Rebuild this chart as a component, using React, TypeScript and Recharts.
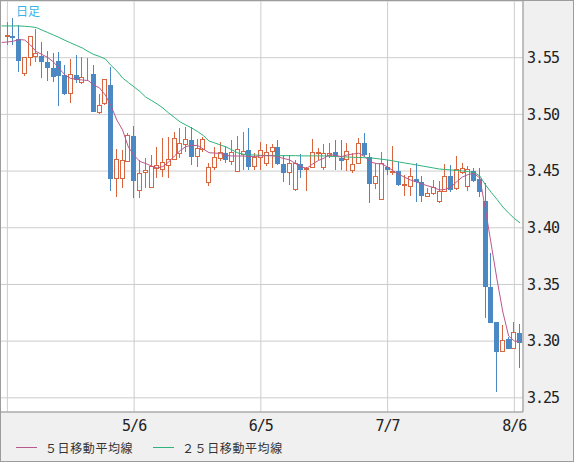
import { ComposedChart, Bar, Line, XAxis, YAxis, CartesianGrid } from "recharts"

// first entry (4/3) only carries the moving averages that run in from the left edge
const DATES = [
  "4/3", "4/4", "4/7", "4/8", "4/9", "4/10", "4/11", "4/14", "4/15", "4/16", "4/17", "4/18",
  "4/21", "4/22", "4/23", "4/24", "4/25", "4/28", "4/29", "4/30", "5/1", "5/2", "5/5", "5/6",
  "5/7", "5/8", "5/9", "5/12", "5/13", "5/14", "5/15", "5/16", "5/19", "5/20", "5/21", "5/22",
  "5/23", "5/26", "5/27", "5/28", "5/29", "5/30", "6/2", "6/3", "6/4", "6/5", "6/6", "6/9",
  "6/10", "6/11", "6/12", "6/13", "6/16", "6/17", "6/18", "6/19", "6/20", "6/23", "6/24", "6/25",
  "6/26", "6/27", "6/30", "7/1", "7/2", "7/3", "7/4", "7/7", "7/8", "7/9", "7/10", "7/11",
  "7/14", "7/15", "7/16", "7/17", "7/18", "7/21", "7/22", "7/23", "7/24", "7/25", "7/28", "7/29",
  "7/30", "7/31", "8/1", "8/4", "8/5", "8/6", "8/7",
]

const OPEN = [
  null,
  3.5685, 3.5694, 3.5665, 3.5354, 3.5495, 3.5509, 3.5515, 3.5462, 3.5406, 3.5471,
  3.5347, 3.518, 3.5347, 3.5274, 3.5356, 3.5356, 3.501, 3.5092, 3.5259, 3.4428,
  3.4428, 3.4583, 3.4809, 3.4327, 3.4486, 3.4355, 3.4516, 3.451, 3.4545, 3.4598,
  3.465, 3.473, 3.4774, 3.4624, 3.4686, 3.4398, 3.4525, 3.4604, 3.4662, 3.458,
  3.4495, 3.4638, 3.4686, 3.4533, 3.4613, 3.456, 3.4666, 3.471, 3.456, 3.448,
  3.4333, 3.456, 3.451, 3.453, 3.4648, 3.4525, 3.4636, 3.4668, 3.4618, 3.4598,
  3.4504, 3.4563, 3.4745, 3.4622, 3.4383, 3.4245, 3.4533, 3.448, 3.4504, 3.4368,
  3.4357, 3.443, 3.4406, 3.4274, 3.4298, 3.4225, 3.4318, 3.4457, 3.434, 3.4486,
  3.4362, 3.4501, 3.4428, 3.4236, 3.348, 3.3169, 3.2907, 3.3016, 3.2928, 3.307,
]

const HIGH = [
  null,
  3.5815, 3.5853, 3.5788, 3.551, 3.5695, 3.575, 3.5641, 3.5559, 3.5539, 3.5553,
  3.5436, 3.5486, 3.5524, 3.5503, 3.5495, 3.5436, 3.5177, 3.5315, 3.5415, 3.4692,
  3.4686, 3.4836, 3.4898, 3.4598, 3.4616, 3.4642, 3.4715, 3.4789, 3.4798, 3.4845,
  3.4877, 3.4891, 3.4891, 3.478, 3.4803, 3.4569, 3.4715, 3.4757, 3.4721, 3.4774,
  3.481, 3.4847, 3.488, 3.466, 3.4759, 3.4736, 3.4736, 3.4774, 3.4642, 3.4642,
  3.4598, 3.4648, 3.4539, 3.4783, 3.4707, 3.4736, 3.4748, 3.4774, 3.4774, 3.4745,
  3.4657, 3.4789, 3.4839, 3.4657, 3.4569, 3.4671, 3.4598, 3.4721, 3.4583, 3.4466,
  3.4525, 3.4569, 3.4457, 3.4351, 3.4421, 3.4408, 3.4563, 3.4554, 3.4633, 3.4569,
  3.4545, 3.4525, 3.4525, 3.4398, 3.3778, 3.317, 3.3142, 3.3037, 3.3172, 3.3152,
]

const LOW = [
  null,
  3.5612, 3.5612, 3.5377, 3.534, 3.5429, 3.5465, 3.5324, 3.5294, 3.5288, 3.5074,
  3.5171, 3.5098, 3.5274, 3.527, 3.529, 3.502, 3.5005, 3.5085, 3.4327, 3.4274,
  3.4348, 3.458, 3.4263, 3.4263, 3.435, 3.435, 3.4436, 3.445, 3.4436, 3.4595,
  3.4612, 3.4668, 3.4554, 3.4539, 3.4671, 3.4368, 3.451, 3.4589, 3.4572, 3.4554,
  3.4492, 3.451, 3.451, 3.451, 3.451, 3.4545, 3.4525, 3.4554, 3.4406, 3.4377,
  3.4324, 3.4442, 3.4324, 3.4527, 3.4598, 3.451, 3.4616, 3.451, 3.451, 3.4501,
  3.448, 3.4562, 3.4622, 3.4221, 3.434, 3.4245, 3.4466, 3.4466, 3.4368, 3.428,
  3.428, 3.423, 3.423, 3.4272, 3.4289, 3.4219, 3.4316, 3.4318, 3.4333, 3.4474,
  3.4327, 3.4404, 3.4269, 3.3204, 3.3158, 3.2555, 3.2907, 3.2928, 3.2928, 3.2761,
]

const CLOSE = [
  null,
  3.5703, 3.5676, 3.5471, 3.5504, 3.5691, 3.5544, 3.5465, 3.5409, 3.5332, 3.5341,
  3.518, 3.5356, 3.5303, 3.5332, 3.5369, 3.5024, 3.5083, 3.5309, 3.4428, 3.4604,
  3.4598, 3.4818, 3.4413, 3.4486, 3.451, 3.4545, 3.4554, 3.4583, 3.4604, 3.4789,
  3.4745, 3.478, 3.462, 3.47, 3.478, 3.4533, 3.4622, 3.4671, 3.4598, 3.4668,
  3.4692, 3.4677, 3.4536, 3.4622, 3.4686, 3.4666, 3.471, 3.456, 3.448, 3.4569,
  3.4569, 3.451, 3.453, 3.4666, 3.4666, 3.4657, 3.4657, 3.4633, 3.4589, 3.4677,
  3.4563, 3.4745, 3.4642, 3.4383, 3.4457, 3.4569, 3.451, 3.4504, 3.4377, 3.4383,
  3.4457, 3.4406, 3.428, 3.4304, 3.4357, 3.4327, 3.4457, 3.4333, 3.4516, 3.4525,
  3.4516, 3.4415, 3.4318, 3.348, 3.3163, 3.2907, 3.3006, 3.2928, 3.3084, 3.2981,
]

const MA5 = [
  3.5635,
  3.5638, 3.5645, 3.566, 3.5656, 3.5612, 3.5555, 3.5528, 3.5502, 3.5462, 3.5405,
  3.5347, 3.5317, 3.531, 3.5303, 3.5299, 3.5259, 3.5233, 3.5171, 3.5074, 3.495,
  3.4862, 3.4712, 3.4637, 3.4585, 3.4567, 3.4545, 3.4527, 3.454, 3.458, 3.4633,
  3.4681, 3.4717, 3.4726, 3.4726, 3.4695, 3.4662, 3.4659, 3.4655, 3.4637, 3.4633,
  3.4633, 3.4633, 3.4629, 3.4627, 3.4635, 3.4636, 3.4636, 3.4624, 3.4611, 3.4598,
  3.4567, 3.4536, 3.4525, 3.4563, 3.4593, 3.4615, 3.4646, 3.4637, 3.4627, 3.4642,
  3.4651, 3.4657, 3.4629, 3.458, 3.4567, 3.4563, 3.4536, 3.4501, 3.447, 3.4444,
  3.4421, 3.4404, 3.4386, 3.4369, 3.4355, 3.4333, 3.4338, 3.436, 3.4406, 3.4448,
  3.447, 3.4479, 3.4439, 3.4157, 3.3848, 3.354, 3.3257, 3.3046, 3.3001, 3.2997,
]

const MA25 = [
  3.578,
  3.578, 3.578, 3.578, 3.5777, 3.5773, 3.5766, 3.5744, 3.5722, 3.57, 3.5678,
  3.5653, 3.563, 3.5608, 3.5586, 3.5555, 3.5528, 3.5511, 3.5489, 3.5431, 3.5383,
  3.5321, 3.5281, 3.5242, 3.5202, 3.5153, 3.5123, 3.5092, 3.5056, 3.5012, 3.4973,
  3.4933, 3.4906, 3.488, 3.4849, 3.4814, 3.4765, 3.4748, 3.473, 3.4712, 3.4686,
  3.466, 3.4648, 3.4642, 3.4642, 3.4639, 3.4636, 3.4636, 3.4636, 3.4636, 3.4636,
  3.4636, 3.4634, 3.4634, 3.4634, 3.4634, 3.4634, 3.463, 3.4628, 3.4626, 3.4624,
  3.4622, 3.462, 3.4618, 3.4616, 3.4611, 3.4604, 3.4598, 3.4589, 3.458, 3.4571,
  3.4563, 3.4554, 3.4545, 3.4536, 3.4527, 3.4518, 3.4514, 3.451, 3.4505, 3.4501,
  3.4496, 3.4488, 3.4457, 3.4377, 3.4311, 3.4249, 3.4183, 3.413, 3.4082, 3.4042,
]

const X_TICKS = ["4/4", "5/6", "6/5", "7/7", "8/6"]
const Y_TICKS = [3.25, 3.3, 3.35, 3.4, 3.45, 3.5, 3.55]

const UP = "#d9653f"
const DOWN = "#4a89c3"
const MA5_COLOR = "#b9588c"
const MA25_COLOR = "#2fb27b"
const JP_FONT = "'Noto Sans CJK JP', sans-serif"
const NUM_FONT = "'DejaVu Sans Mono', monospace"

const rows = DATES.map((date, i) => ({
  date,
  open: OPEN[i],
  high: HIGH[i],
  low: LOW[i],
  close: CLOSE[i],
  range: HIGH[i] == null ? null : [LOW[i], HIGH[i]],
  ma5: MA5[i],
  ma25: MA25[i],
}))

// eslint-disable-next-line @typescript-eslint/no-explicit-any
function Candle(props: any) {
  const { x, y, width, height, payload } = props
  if (!payload || payload.high == null) return null
  const top = Math.min(y, y + height)
  const k = Math.abs(height) / (payload.high - payload.low)
  const py = (v: number) => top + (payload.high - v) * k
  const up = payload.close >= payload.open
  const color = up ? UP : DOWN
  const cx = Math.floor(x + width / 2) + 0.5
  const bTop = Math.round(py(Math.max(payload.open, payload.close)))
  const bBot = Math.round(py(Math.min(payload.open, payload.close)))
  return (
    <g>
      <line x1={cx} x2={cx} y1={Math.round(py(payload.high))} y2={Math.round(py(payload.low))} stroke={color} strokeWidth={1} />
      {up ? (
        <rect x={cx - 2} y={bTop + 0.5} width={4} height={Math.max(bBot - bTop - 1, 0)} fill="#fff" stroke={color} strokeWidth={1} />
      ) : (
        <rect x={cx - 2.5} y={bTop} width={5} height={Math.max(bBot - bTop, 1)} fill={color} />
      )}
    </g>
  )
}

function LegendItem({ left, color, label }: { left: number; color: string; label: string }) {
  return (
    <>
      <div style={{ position: "absolute", left, top: 446, width: 21, height: 1, background: color }} />
      <div
        style={{
          position: "absolute",
          left: left + 29,
          top: 439,
          lineHeight: "16px",
          fontSize: 12,
          letterSpacing: 0.6,
          fontFamily: JP_FONT,
          color: "#333",
          whiteSpace: "nowrap",
        }}
      >
        {label}
      </div>
    </>
  )
}

export default function App() {
  return (
    <div
      style={{
        position: "absolute",
        left: 0,
        top: 0,
        width: 574,
        height: 462,
        boxSizing: "border-box",
        border: "1px solid #9c9c9c",
        background: "#f0f0f0",
        overflow: "hidden",
      }}
    >
      <div style={{ position: "absolute", left: -3, top: 0 }}>
        <ComposedChart width={576} height={460} data={rows} margin={{ top: 0, right: 0, left: 0, bottom: 29 }}>
          <CartesianGrid stroke="#cdcdcd" fill="#fff" />
          <XAxis
            dataKey="date"
            ticks={X_TICKS}
            interval={0}
            tickLine={false}
            tickSize={0}
            tickMargin={8}
            height={20}
            padding={{ left: 0.74, right: 0 }}
            axisLine={{ stroke: "#9a9a9a" }}
            tickFormatter={(v: string) => (v === "4/4" ? "" : v)}
            tick={{ fill: "#222", fontSize: 15, fontFamily: NUM_FONT, letterSpacing: -1 }}
          />
          <YAxis
            orientation="right"
            type="number"
            domain={[3.2375, 3.6]}
            ticks={Y_TICKS}
            allowDataOverflow
            tickLine={false}
            tickSize={0}
            tickMargin={4}
            width={51}
            axisLine={{ stroke: "#9a9a9a" }}
            tickFormatter={(v: number) => v.toFixed(2)}
            tick={{ fill: "#222", fontSize: 15, fontFamily: NUM_FONT, letterSpacing: -1 }}
          />
          <Bar dataKey="range" barSize={5} isAnimationActive={false} shape={(p: unknown) => <Candle {...(p as object)} />} />
          <Line type="linear" dataKey="ma25" stroke={MA25_COLOR} strokeWidth={1} dot={false} activeDot={false} isAnimationActive={false} />
          <Line type="linear" dataKey="ma5" stroke={MA5_COLOR} strokeWidth={1} dot={false} activeDot={false} isAnimationActive={false} />
        </ComposedChart>
      </div>
      <div
        style={{
          position: "absolute",
          left: 15,
          top: 2,
          lineHeight: "16px",
          fontSize: 12,
          fontFamily: JP_FONT,
          color: "#36b4e6",
        }}
      >
        日足
      </div>
      <LegendItem left={15} color={MA5_COLOR} label="５日移動平均線" />
      <LegendItem left={152} color={MA25_COLOR} label="２５日移動平均線" />
    </div>
  )
}
